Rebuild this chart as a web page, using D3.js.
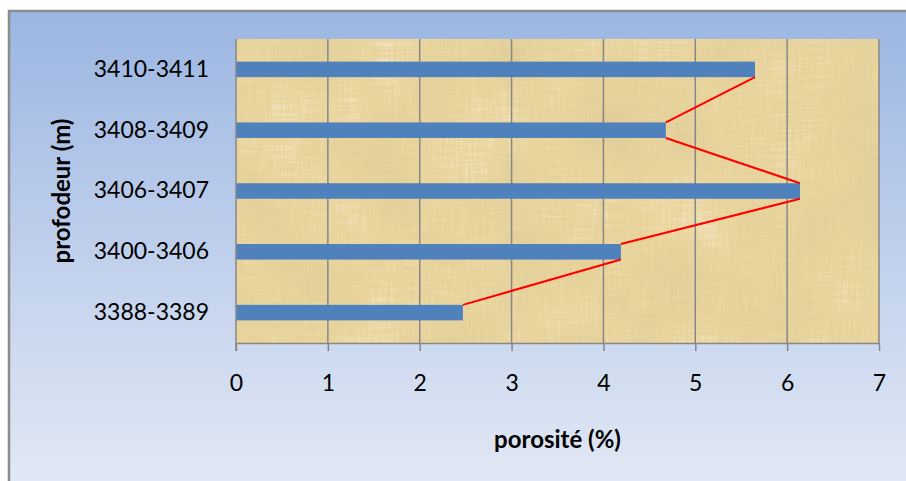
<!DOCTYPE html>
<html>
<head>
<meta charset="utf-8">
<script src="https://cdn.jsdelivr.net/npm/d3@7"></script>
<style>
  html, body { margin: 0; padding: 0; background: #ffffff; }
  svg { display: block; }
  text { font-family: Lato, "Open Sans", sans-serif; fill: #000; }
</style>
</head>
<body>
<svg id="chart" width="906" height="481"></svg>
<script>
// Depth intervals, listed bottom to top
const categories = ["3388-3389", "3400-3406", "3406-3407", "3408-3409", "3410-3411"];
// Porosity (%) per interval
const porosity = [2.47, 4.19, 6.14, 4.68, 5.65];
// X axis ticks
const xTicks = [0, 1, 2, 3, 4, 5, 6, 7];

const xTitle = "porosité (%)";
const yTitle = "profodeur (m)";

const W = 906, H = 481;
const plot = { left: 236, top: 39, right: 879, bottom: 343 };

const svg = d3.select("#chart");
const defs = svg.append("defs");

// outer background gradient
const bg = defs.append("linearGradient")
  .attr("id", "bgGrad").attr("x1", 0).attr("y1", 0).attr("x2", 0).attr("y2", 1);
bg.append("stop").attr("offset", "0%").attr("stop-color", "#9bb6e2");
bg.append("stop").attr("offset", "100%").attr("stop-color", "#e3e9f5");

// papyrus texture for the plot area
const f = defs.append("filter").attr("id", "papyrus")
  .attr("x", 0).attr("y", 0).attr("width", 1).attr("height", 1)
  .attr("filterUnits", "objectBoundingBox");
f.append("feTurbulence").attr("type", "fractalNoise")
  .attr("baseFrequency", "0.55 0.025").attr("numOctaves", 2).attr("seed", 4).attr("result", "n1");
f.append("feTurbulence").attr("type", "fractalNoise")
  .attr("baseFrequency", "0.03 0.5").attr("numOctaves", 2).attr("seed", 9).attr("result", "n2");
f.append("feTurbulence").attr("type", "fractalNoise")
  .attr("baseFrequency", "0.012").attr("numOctaves", 2).attr("seed", 2).attr("result", "n3");
f.append("feComposite").attr("in", "n1").attr("in2", "n2")
  .attr("operator", "arithmetic").attr("k1", 0).attr("k2", 0.5).attr("k3", 0.5).attr("k4", 0)
  .attr("result", "n12");
f.append("feComposite").attr("in", "n12").attr("in2", "n3")
  .attr("operator", "arithmetic").attr("k1", 0).attr("k2", 0.6).attr("k3", 0.4).attr("k4", 0)
  .attr("result", "nAll");
f.append("feColorMatrix").attr("in", "nAll").attr("type", "matrix")
  .attr("values", "0 0 0 0 0.70  0 0 0 0 0.58  0 0 0 0 0.30  2.2 0 0 0 -0.95")
  .attr("result", "dark");
f.append("feColorMatrix").attr("in", "nAll").attr("type", "matrix")
  .attr("values", "0 0 0 0 1  0 0 0 0 0.96  0 0 0 0 0.84  -2.2 0 0 0 0.95")
  .attr("result", "light");
f.append("feMerge").selectAll("feMergeNode")
  .data(["SourceGraphic", "dark", "light"]).enter()
  .append("feMergeNode").attr("in", d => d);

// chart area
svg.append("rect").attr("x", 9).attr("y", 11).attr("width", W).attr("height", H)
  .attr("fill", "url(#bgGrad)").attr("stroke", "#8c8c8c").attr("stroke-width", 2.5);

const x = d3.scaleLinear().domain([0, 7]).range([plot.left, plot.right]);
const y = d3.scaleBand().domain(categories.slice().reverse())
  .range([plot.top, plot.bottom]).paddingInner(0.745).paddingOuter(0.3725);

// plot area
svg.append("rect")
  .attr("x", plot.left).attr("y", plot.top)
  .attr("width", plot.right - plot.left).attr("height", plot.bottom - plot.top)
  .attr("fill", "#ead59f").attr("filter", "url(#papyrus)");

// vertical gridlines
svg.append("g").selectAll("line").data(xTicks.slice(1)).enter().append("line")
  .attr("x1", d => x(d)).attr("x2", d => x(d))
  .attr("y1", plot.top).attr("y2", plot.bottom)
  .attr("stroke", "#878787").attr("stroke-width", 1.5);

// bars
svg.append("g").selectAll("rect").data(categories).enter().append("rect")
  .attr("x", x(0))
  .attr("y", d => y(d))
  .attr("width", (d, i) => x(porosity[i]) - x(0))
  .attr("height", y.bandwidth())
  .attr("fill", "#4f81bd");

// series lines joining the bar ends
const links = d3.range(categories.length - 1).map(i => ({
  x1: x(porosity[i]), y1: y(categories[i]),
  x2: x(porosity[i + 1]), y2: y(categories[i + 1]) + y.bandwidth()
}));
svg.append("g").selectAll("line").data(links).enter().append("line")
  .attr("x1", d => d.x1).attr("y1", d => d.y1)
  .attr("x2", d => d.x2).attr("y2", d => d.y2)
  .attr("stroke", "#ff0000").attr("stroke-width", 2);

// x axis
const xAxis = svg.append("g").attr("transform", `translate(0,${plot.bottom})`)
  .call(d3.axisBottom(x).tickValues(xTicks).tickFormat(d3.format("d"))
    .tickSizeInner(8).tickSizeOuter(0).tickPadding(24));
xAxis.select(".domain").attr("stroke", "#878787").attr("stroke-width", 1.5);
xAxis.selectAll(".tick line").attr("stroke", "#878787").attr("stroke-width", 1.5);
xAxis.selectAll(".tick text").style("font-size", "23px")
  .style("font-family", "Lato, 'Open Sans', sans-serif").attr("fill", "#000");

// y axis
const yAxis = svg.append("g").attr("transform", `translate(${plot.left},0)`)
  .call(d3.axisLeft(y).tickSize(0).tickPadding(27));
yAxis.select(".domain").attr("stroke", "#878787").attr("stroke-width", 1.5)
  .attr("d", `M0,${plot.top}V${plot.bottom + 8}`);
yAxis.selectAll(".tick text").style("font-size", "23px")
  .style("font-family", "Lato, 'Open Sans', sans-serif").attr("fill", "#000");

// axis titles
svg.append("text").attr("x", (plot.left + plot.right) / 2).attr("y", 448)
  .attr("text-anchor", "middle").style("font-size", "24px").style("font-weight", "bold")
  .text(xTitle);
svg.append("text")
  .attr("transform", `translate(70,${(plot.top + plot.bottom) / 2}) rotate(-90)`)
  .attr("text-anchor", "middle").style("font-size", "24px").style("font-weight", "bold")
  .text(yTitle);
</script>
</body>
</html>
